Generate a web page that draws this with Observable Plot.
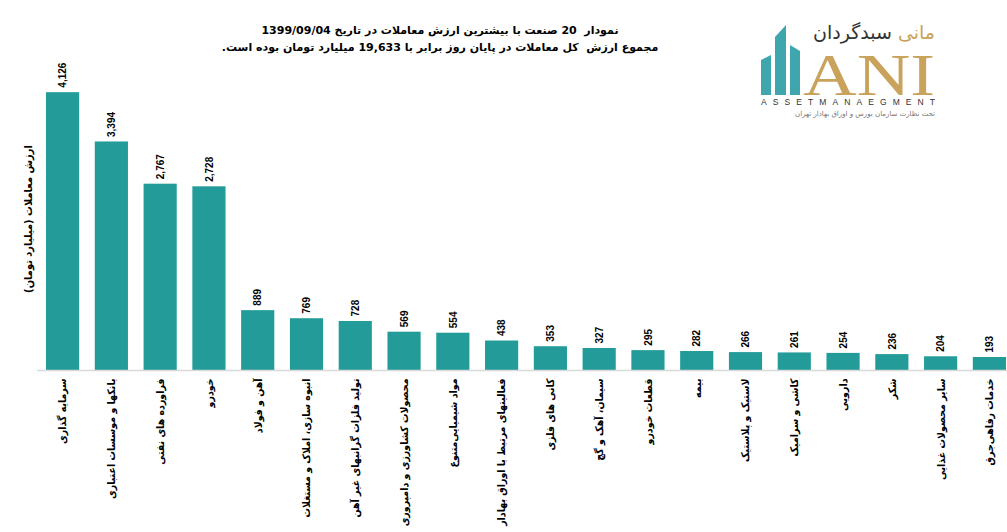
<!DOCTYPE html>
<html>
<head>
<meta charset="utf-8">
<script src="https://cdn.jsdelivr.net/npm/d3@7"></script>
<script src="https://cdn.jsdelivr.net/npm/@observablehq/plot@0.6"></script>
<style>
  html, body { margin: 0; padding: 0; background: #fff; }
  #wrap { position: relative; width: 1007px; height: 532px; overflow: hidden; }
  #title { position: absolute; left: 200px; width: 480px; top: 22px; text-align: center;
           font-family: "DejaVu Sans", sans-serif; font-weight: bold; font-size: 11px; line-height: 17px; color: #000; direction: rtl; }
  #logo { position: absolute; left: 755px; top: 15px; }
</style>
</head>
<body>
<div id="wrap">
  <div id="chart"></div>
  <div id="title">
    <div>نمودار&nbsp; 20 صنعت با بیشترین ارزش معاملات در تاریخ 1399/09/04</div>
    <div>مجموع ارزش&nbsp; کل معاملات در پایان روز برابر با 19,633 میلیارد تومان بوده است.</div>
  </div>
  <svg id="logo" width="190" height="105" viewBox="0 0 190 105">
    <polygon points="6,45 16,40 16,80 6,80" fill="#3fa6ae"/>
    <polygon points="20,22 31,10 31,80 20,80" fill="#3fa6ae"/>
    <polygon points="35,30 45,36 45,80 35,80" fill="#3fa6ae"/>
    <text x="180" y="24" text-anchor="end" font-family="DejaVu Sans" font-size="19" fill="#333"><tspan fill="#c9a35c">مانی</tspan> سبدگردان</text>
    <text x="48" y="80" font-family="Liberation Serif" font-size="60" fill="#c9a35c" textLength="132" lengthAdjust="spacingAndGlyphs">ANI</text>
    <text x="6" y="90" font-family="Liberation Sans" font-size="8.5" fill="#333" textLength="174" lengthAdjust="spacing">ASSETMANAEGMENT</text>
    <text x="180" y="101" text-anchor="end" font-family="DejaVu Sans" font-size="7" fill="#777">تحت نظارت سازمان بورس و اوراق بهادار تهران</text>
  </svg>
</div>
<script>
const categories = [
  "سرمایه گذاری",
  "بانکها و موسسات اعتباری",
  "فراورده های نفتی",
  "خودرو",
  "آهن و فولاد",
  "انبوه سازی، املاک و مستغلات",
  "تولید فلزات گرانبهای غیر آهن",
  "محصولات کشاورزی و دامپروری",
  "مواد شیمیایی‌متنوع",
  "فعالیتهای مرتبط با اوراق بهادار",
  "کانی های فلزی",
  "سیمان، آهک و گچ",
  "قطعات خودرو",
  "بیمه",
  "لاستیک و پلاستیک",
  "کاشی و سرامیک",
  "دارویی",
  "شکر",
  "سایر محصولات غذایی",
  "خدمات رفاهی‌جرق"
];
const values = [4126, 3394, 2767, 2728, 889, 769, 728, 569, 554, 438, 353, 327, 295, 282, 266, 261, 254, 236, 204, 193];
const yLabel = "ارزش معاملات (میلیارد تومان)";

const data = categories.map((c, i) => ({category: c, value: values[i]}));
const fmt = d3.format(",");

const chart = Plot.plot({
  width: 1007,
  height: 532,
  marginTop: 67,
  marginBottom: 162,
  marginLeft: 37,
  marginRight: 0,
  style: {fontFamily: "DejaVu Sans Condensed, DejaVu Sans, sans-serif", background: "#fff"},
  x: {domain: categories, range: [30.4, 1021.6], padding: 0.32, round: false},
  y: {domain: [0, 4500], axis: null},
  marks: [
    Plot.barY(data, {x: "category", y: "value", fill: "#239c99"}),
    Plot.ruleY([0], {stroke: "#d9d9d9", strokeWidth: 1.5}),
    Plot.text(data, {x: "category", y: "value", text: d => fmt(d.value), rotate: -90, textAnchor: "start", dy: -5,
      fontFamily: "Liberation Sans", fontWeight: "bold", fontSize: 10, fill: "#000"}),
    Plot.axisX({tickSize: 0, tickPadding: 8, tickRotate: -90, label: null, fontWeight: "bold", fontSize: 10.5, fill: "#000"}),
    Plot.text([yLabel], {frameAnchor: "left", textAnchor: "middle", dx: -9, rotate: -90, fontWeight: "bold", fontSize: 11, fill: "#000"})
  ]
});
document.getElementById("chart").appendChild(chart);
</script>
</body>
</html>
